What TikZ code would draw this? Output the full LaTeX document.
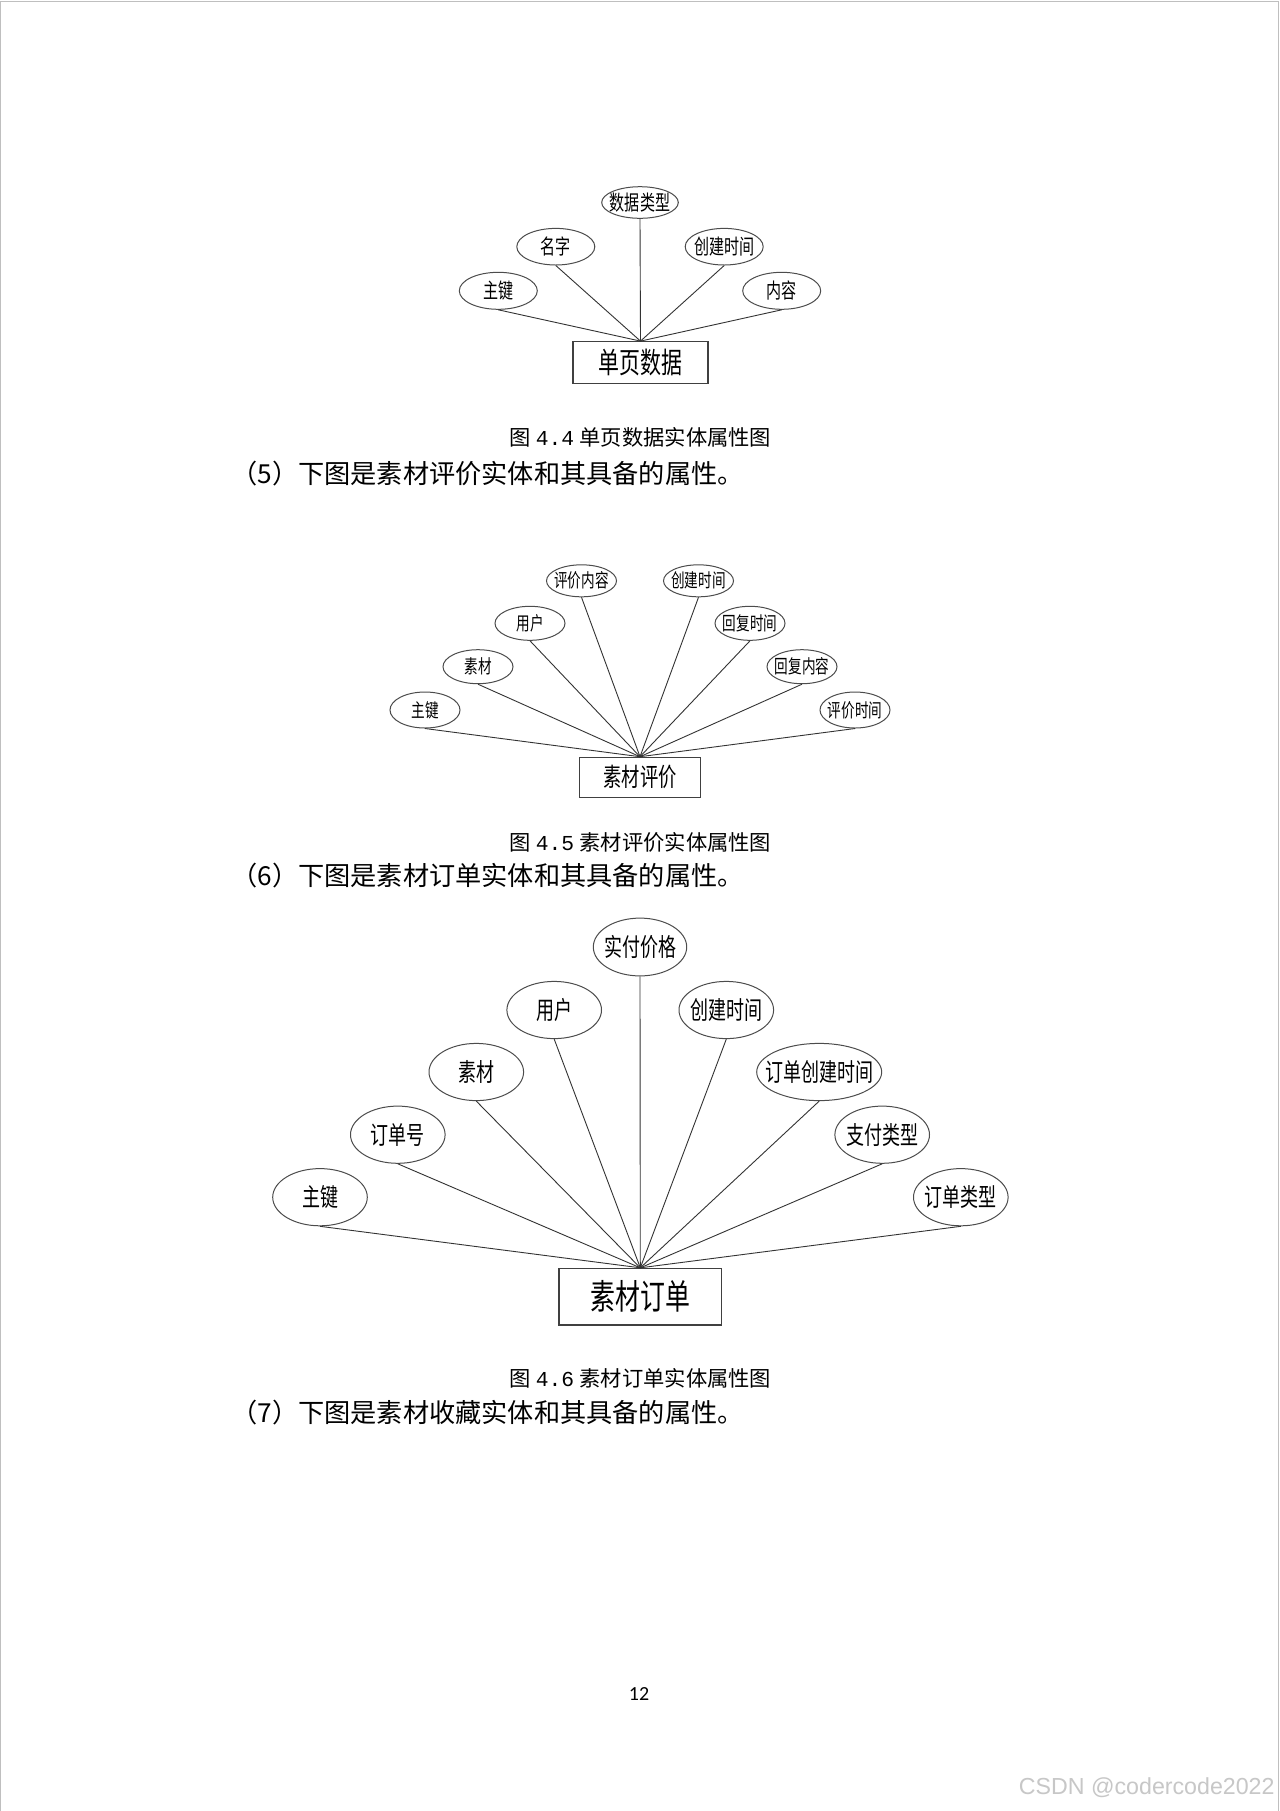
\documentclass[tikz,border=0pt]{standalone}
\usepackage{fontspec}
\usetikzlibrary{shapes.geometric}
\newfontfamily\erfont[FakeStretch=0.72]{Noto Sans CJK SC}
\newfontfamily\cjkfont{Noto Sans CJK SC}
\newfontfamily\capnum{Liberation Mono}
\newfontfamily\pgnumfont{Carlito}
\newfontfamily\wmfont{Liberation Sans}
\newcommand\zw[1]{\makebox[0pt][c]{\raisebox{-0.38em}[0pt][0pt]{#1}}}
\newcommand\capnr[1]{\hspace{0.22em}{\capnum #1}\hspace{0.25em}}
\tikzset{
  attr/.style={ellipse, draw=black!70, line width=0.5pt, inner sep=0pt, fill=white},
  entity/.style={rectangle, draw=black!75, line width=0.6pt, inner sep=0pt},
  link/.style={draw=black!80, line width=0.45pt},
  aone/.style={attr, minimum width=39pt, minimum height=18.5pt, font=\erfont\fontsize{10.45pt}{11pt}\selectfont},
  atwo/.style={attr, minimum width=35pt, minimum height=17pt, font=\erfont\fontsize{9.45pt}{10pt}\selectfont},
  athree/.style={attr, minimum width=47.3pt, minimum height=28.6pt, font=\erfont\fontsize{12.5pt}{13pt}\selectfont},
  bodytext/.style={anchor=west, inner sep=0pt, font=\cjkfont\fontsize{13.1pt}{15pt}\selectfont},
  captext/.style={anchor=west, inner sep=0pt, font=\cjkfont\fontsize{10.65pt}{12pt}\selectfont},
  border/.style={draw=black!25, line width=0.6pt}
}
\begin{document}
\begin{tikzpicture}[x=0.5pt,y=-0.5pt]
\useasboundingbox (0,0) rectangle (1280,1811);
\fill[white] (0,0) rectangle (1280,1811);
\draw[border] (0.6,1811) -- (0.6,1.2) -- (1278.6,1.2) -- (1278.6,1811);

% ---------- Diagram 4.4 ----------
\node[aone, minimum height=15.8pt, minimum width=38.3pt] (a1) at (640,202.5) {\zw{数据类型}};
\node[aone, minimum height=18.3pt] (a2) at (555.8,246.7) {\zw{名字}};
\node[aone, minimum height=18.3pt] (a3) at (724.2,246.7) {\zw{创建时间}};
\node[aone] (a4) at (498.3,290.8) {\zw{主键}};
\node[aone] (a5) at (781.7,290.8) {\zw{内容}};
\node[entity, minimum width=67.5pt, minimum height=20.8pt, font=\erfont\fontsize{14.55pt}{15pt}\selectfont] (e1) at (640.5,362.5) {\zw{单页数据}};
\foreach \n in {a1,a2,a3,a4,a5} \draw[link] (\n.south) -- (e1.north);

\node[captext] (c1) at (509.5,437.5) {图\capnr{4.4}单页数据实体属性图};
\node[bodytext] (p5) at (231,473.6) {（5）下图是素材评价实体和其具备的属性。};

% ---------- Diagram 4.5 ----------
\node[atwo, minimum height=16pt] (b1) at (581.5,580.8) {\zw{评价内容}};
\node[atwo, minimum height=16pt] (b2) at (698.5,580.8) {\zw{创建时间}};
\node[atwo] (b3) at (530,623.3) {\zw{用户}};
\node[atwo] (b4) at (750,623.3) {\zw{回复时间}};
\node[atwo] (b5) at (478,666.7) {\zw{素材}};
\node[atwo] (b6) at (802,666.7) {\zw{回复内容}};
\node[atwo, minimum height=18pt] (b7) at (425,710) {\zw{主键}};
\node[atwo, minimum height=18pt] (b8) at (855,710) {\zw{评价时间}};
\node[entity, minimum width=60.5pt, minimum height=20pt, font=\erfont\fontsize{12.7pt}{13pt}\selectfont] (e2) at (640,777.3) {\zw{素材评价}};
\foreach \n in {b1,b2,b3,b4,b5,b6,b7,b8} \draw[link] (\n.south) -- (e2.north);

\node[captext] (c2) at (509.5,842) {图\capnr{4.5}素材评价实体属性图};
\node[bodytext] (p6) at (231,875.6) {（6）下图是素材订单实体和其具备的属性。};

% ---------- Diagram 4.6 ----------
\node[athree, minimum width=46.7pt, minimum height=28.9pt] (g1) at (640,947) {\zw{实付价格}};
\node[athree] (g2) at (554.2,1010) {\zw{用户}};
\node[athree] (g3) at (726.3,1010) {\zw{创建时间}};
\node[athree] (g4) at (476.3,1072) {\zw{素材}};
\node[athree, minimum width=62.5pt] (g5) at (819.2,1072) {\zw{订单创建时间}};
\node[athree] (g6) at (397.8,1134.7) {\zw{订单号}};
\node[athree] (g7) at (882.2,1134.7) {\zw{支付类型}};
\node[athree] (g8) at (320,1197.2) {\zw{主键}};
\node[athree] (g9) at (960.8,1197.2) {\zw{订单类型}};
\node[entity, minimum width=81.3pt, minimum height=28.3pt, font=\erfont\fontsize{17.3pt}{18pt}\selectfont] (e3) at (640.3,1296.7) {\zw{素材订单}};
\foreach \n in {g1,g2,g3,g4,g5,g6,g7,g8,g9} \draw[link] (\n.south) -- (e3.north);

\node[captext] (c3) at (509.5,1378) {图\capnr{4.6}素材订单实体属性图};
\node[bodytext] (p7) at (231,1412.8) {（7）下图是素材收藏实体和其具备的属性。};

% ---------- footer ----------
\node[inner sep=0pt, font=\pgnumfont\fontsize{10pt}{12pt}\selectfont] (pg) at (639,1693.5) {12};
\node[anchor=east, inner sep=0pt, text=black!22, font=\wmfont\fontsize{11.6pt}{13pt}\selectfont] (wm) at (1275,1788) {CSDN @codercode2022};
\end{tikzpicture}
\end{document}
